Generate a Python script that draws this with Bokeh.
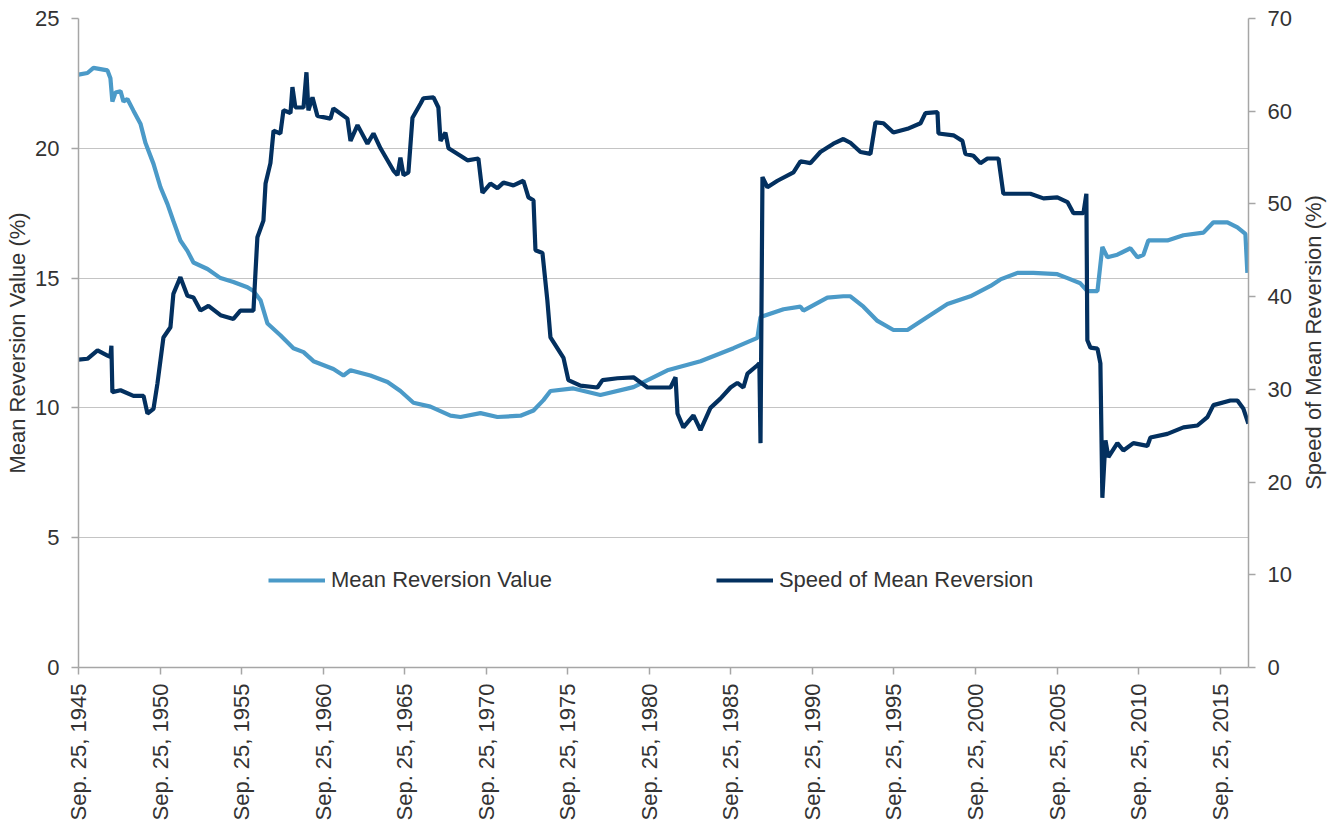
import math
import pandas as pd
from bokeh.plotting import figure
from bokeh.models import (Range1d, LinearAxis, FixedTicker, DatetimeTickFormatter,
                          Legend, LegendItem, ColumnDataSource, Label)
from bokeh.embed import file_html
from bokeh.resources import INLINE

# ---------------- data (decimal years, values in %) ----------------
mrv_years = [1945.732, 1946.28, 1946.65, 1947.08, 1947.51, 1947.69, 1947.81, 1948.0, 1948.31, 1948.49,
             1948.73, 1949.1, 1949.53, 1949.84, 1950.33, 1950.76, 1951.19, 1951.55, 1951.98, 1952.41,
             1952.78, 1953.64, 1954.44, 1955.23, 1956.09, 1956.46, 1956.89, 1957.32, 1958.11, 1958.91,
             1959.53, 1960.14, 1961.36, 1961.98, 1962.41, 1963.63, 1964.68, 1965.47, 1966.27, 1967.31,
             1968.54, 1969.15, 1970.38, 1971.42, 1972.83, 1973.63, 1974.24, 1974.67, 1976.08, 1977.73,
             1979.76, 1981.84, 1983.87, 1985.89, 1987.36, 1987.55, 1988.96, 1990.0, 1990.18, 1991.65,
             1992.63, 1993.06, 1993.86, 1994.72, 1995.7, 1996.56, 1997.78, 1999.01, 2000.42, 2001.65,
             2002.26, 2003.3, 2004.28, 2005.75, 2006.37, 2007.16, 2007.59, 2008.21, 2008.51, 2008.82,
             2009.43, 2010.23, 2010.66, 2011.03, 2011.33, 2012.5, 2013.48, 2014.71, 2015.32, 2016.18,
             2016.79, 2017.28, 2017.4]
mrv_values = [22.84, 22.9, 23.1, 23.05, 23.0, 22.7, 21.8, 22.15, 22.2, 21.8,
              21.9, 21.45, 20.95, 20.2, 19.4, 18.5, 17.85, 17.2, 16.45, 16.05,
              15.6, 15.35, 15.0, 14.85, 14.65, 14.5, 14.15, 13.25, 12.8, 12.3,
              12.15, 11.8, 11.5, 11.25, 11.45, 11.25, 11.0, 10.65, 10.2, 10.05,
              9.7, 9.65, 9.8, 9.65, 9.7, 9.9, 10.3, 10.65, 10.75, 10.5,
              10.8, 11.45, 11.8, 12.3, 12.7, 13.5, 13.8, 13.9, 13.75, 14.25,
              14.3, 14.3, 13.9, 13.35, 13.0, 13.0, 13.5, 14.0, 14.3, 14.7,
              14.95, 15.2, 15.2, 15.15, 15.0, 14.8, 14.5, 14.5, 16.2, 15.8,
              15.9, 16.15, 15.8, 15.9, 16.45, 16.45, 16.65, 16.75, 17.15, 17.15,
              16.95, 16.7, 15.2]

speed_years = [1945.732, 1946.28, 1946.9, 1947.51, 1947.69, 1947.75, 1947.81, 1948.31, 1949.1, 1949.72,
               1949.96, 1950.33, 1950.57, 1950.94, 1951.37, 1951.55, 1951.98, 1952.41, 1952.78, 1953.21,
               1953.7, 1954.44, 1955.23, 1955.66, 1956.46, 1956.58, 1956.7, 1957.07, 1957.2, 1957.5,
               1957.69, 1958.11, 1958.3, 1958.73, 1958.85, 1959.03, 1959.53, 1959.71, 1959.83, 1960.08,
               1960.38, 1961.18, 1961.36, 1962.22, 1962.41, 1962.84, 1963.45, 1963.82, 1964.25, 1965.04,
               1965.29, 1965.47, 1965.66, 1965.96, 1966.21, 1966.7, 1966.88, 1967.5, 1967.8, 1967.93,
               1968.23, 1968.42, 1969.15, 1969.58, 1970.25, 1970.5, 1970.99, 1971.42, 1971.79, 1972.4,
               1973.01, 1973.32, 1973.63, 1973.75, 1974.18, 1974.48, 1974.67, 1975.47, 1975.77, 1976.51,
               1977.55, 1977.86, 1978.78, 1979.76, 1980.62, 1982.03, 1982.34, 1982.46, 1982.82, 1983.44,
               1983.87, 1984.48, 1985.09, 1985.71, 1986.13, 1986.5, 1986.75, 1987.36, 1987.48, 1987.55,
               1987.67, 1987.97, 1988.59, 1989.57, 1990.0, 1990.61, 1991.22, 1992.02, 1992.63, 1993.06,
               1993.68, 1994.29, 1994.6, 1995.09, 1995.7, 1996.56, 1997.36, 1997.66, 1998.4, 1998.46,
               1999.38, 1999.93, 2000.11, 2000.6, 2001.03, 2001.46, 2002.14, 2002.44, 2003.3, 2004.1,
               2004.9, 2005.75, 2006.37, 2006.74, 2007.35, 2007.53, 2007.59, 2007.78, 2008.21, 2008.39,
               2008.51, 2008.7, 2008.88, 2009.43, 2009.8, 2010.41, 2011.27, 2011.46, 2012.5, 2013.48,
               2014.34, 2014.95, 2015.32, 2016.36, 2016.79, 2017.16, 2017.46]
speed_values = [33.2, 33.3, 34.2, 33.65, 33.5, 34.7, 29.7, 29.9, 29.3, 29.3,
                27.4, 27.9, 30.6, 35.6, 36.7, 40.3, 42.1, 40.1, 39.9, 38.5,
                39.0, 38.0, 37.6, 38.5, 38.5, 42.5, 46.4, 48.2, 52.2, 54.4,
                57.9, 57.6, 60.1, 59.8, 62.6, 60.4, 60.4, 64.2, 60.1, 61.5,
                59.5, 59.2, 60.3, 59.2, 56.8, 58.5, 56.5, 57.6, 56.0, 53.6,
                53.1, 55.0, 53.1, 53.4, 59.3, 60.8, 61.4, 61.5, 60.4, 56.8,
                57.7, 56.0, 55.2, 54.7, 54.9, 51.2, 52.2, 51.7, 52.3, 52.0,
                52.5, 50.7, 50.4, 45.0, 44.7, 39.6, 35.6, 33.4, 31.0, 30.4,
                30.2, 31.0, 31.2, 31.3, 30.2, 30.2, 31.3, 27.4, 25.9, 27.2,
                25.6, 28.0, 29.0, 30.2, 30.7, 30.2, 31.7, 32.6, 32.8, 24.2,
                52.9, 51.8, 52.5, 53.4, 54.6, 54.4, 55.6, 56.5, 57.0, 56.6,
                55.6, 55.4, 58.8, 58.7, 57.7, 58.1, 58.7, 59.8, 59.9, 57.6,
                57.4, 56.8, 55.4, 55.2, 54.4, 54.9, 54.9, 51.1, 51.1, 51.1,
                50.6, 50.7, 50.2, 49.0, 49.0, 51.1, 35.3, 34.5, 34.4, 32.8,
                18.3, 24.5, 22.7, 24.2, 23.4, 24.2, 23.9, 24.8, 25.2, 25.9,
                26.1, 27.0, 28.3, 28.8, 28.8, 27.9, 26.3]

tick_years = [1945, 1950, 1955, 1960, 1965, 1970, 1975, 1980, 1985, 1990, 1995, 2000, 2005, 2010, 2015]
left_ticks = [0, 5, 10, 15, 20, 25]
right_ticks = [0, 10, 20, 30, 40, 50, 60, 70]
x_end_year = 2017.47

LIGHT = "#4B9AC8"
NAVY = "#03305F"
FONT = "Liberation Sans"
FS = "22px"
TXT = "#333333"


def yr2dt(y):
    yi = int(y)
    a = pd.Timestamp(yi, 1, 1)
    b = pd.Timestamp(yi + 1, 1, 1)
    return a + (b - a) * (y - yi)


src_mrv = ColumnDataSource(dict(x=[yr2dt(y) for y in mrv_years], y=mrv_values))
src_spd = ColumnDataSource(dict(x=[yr2dt(y) for y in speed_years], y=speed_values))

p = figure(width=1330, height=825, x_axis_type="datetime",
           x_range=Range1d(pd.Timestamp(1945, 9, 25), yr2dt(x_end_year)),
           y_range=Range1d(0, 25),
           output_backend="svg", toolbar_location=None,
           min_border_left=78, min_border_right=82, min_border_top=18, min_border_bottom=158)
p.outline_line_color = None
p.extra_y_ranges = {"speed": Range1d(0, 70)}

r1 = p.line("x", "y", source=src_mrv, color=LIGHT, line_width=4.2)
r2 = p.line("x", "y", source=src_spd, color=NAVY, line_width=4.2, y_range_name="speed")

# x axis
xa = p.xaxis[0]
xa.ticker = FixedTicker(ticks=[pd.Timestamp(y, 9, 25).timestamp() * 1000 for y in tick_years])
fmt = "%b. %d, %Y"
xa.formatter = DatetimeTickFormatter(years=fmt, months=fmt, days=fmt, hours=fmt, minutes=fmt,
                                     seconds=fmt, milliseconds=fmt, microseconds=fmt,
                                     hourmin=fmt, minsec=fmt)
xa.major_label_orientation = math.pi / 2

# left axis
ya = p.yaxis[0]
ya.ticker = FixedTicker(ticks=left_ticks)
ya.axis_label = "Mean Reversion Value (%)"

# right axis (its title is drawn as a rotated label reading upwards)
ya2 = LinearAxis(y_range_name="speed", ticker=FixedTicker(ticks=right_ticks))
p.add_layout(ya2, "right")

for ax in (xa, ya, ya2):
    ax.axis_line_color = "#A6A6A6"
    ax.axis_line_width = 1.5
    ax.major_tick_line_color = "#A6A6A6"
    ax.major_tick_line_width = 1.5
    ax.major_tick_in = 0
    ax.major_tick_out = 7
    ax.minor_tick_line_color = None
    ax.major_label_text_font = FONT
    ax.major_label_text_font_size = FS
    ax.major_label_text_color = TXT
    ax.axis_label_text_font = FONT
    ax.axis_label_text_font_size = FS
    ax.axis_label_text_font_style = "normal"
    ax.axis_label_text_color = TXT

xa.major_label_standoff = 9
ya.major_label_standoff = 12
ya.axis_label_standoff = 2
ya2.major_label_standoff = 12

right_title = Label(x=19, y=325, x_units="screen", y_units="screen",
                    text="Speed of Mean Reversion (%)", angle=math.pi / 2,
                    text_align="center", text_baseline="middle",
                    text_font=FONT, text_font_size=FS, text_color=TXT)
p.add_layout(right_title, "right")

p.xgrid.grid_line_color = None
p.ygrid.grid_line_color = "#C4C4C4"
p.ygrid.grid_line_width = 1.2

legend = Legend(items=[LegendItem(label="Mean Reversion Value", renderers=[r1]),
                       LegendItem(label="Speed of Mean Reversion", renderers=[r2])],
                orientation="horizontal", location=(190, 74), spacing=164,
                glyph_width=57, glyph_height=24, label_height=24, label_standoff=6,
                padding=0, margin=0, border_line_alpha=0, background_fill_alpha=0,
                label_text_font=FONT, label_text_font_size=FS, label_text_color=TXT)
p.add_layout(legend)

open("out.html", "w").write(file_html(p, INLINE))
